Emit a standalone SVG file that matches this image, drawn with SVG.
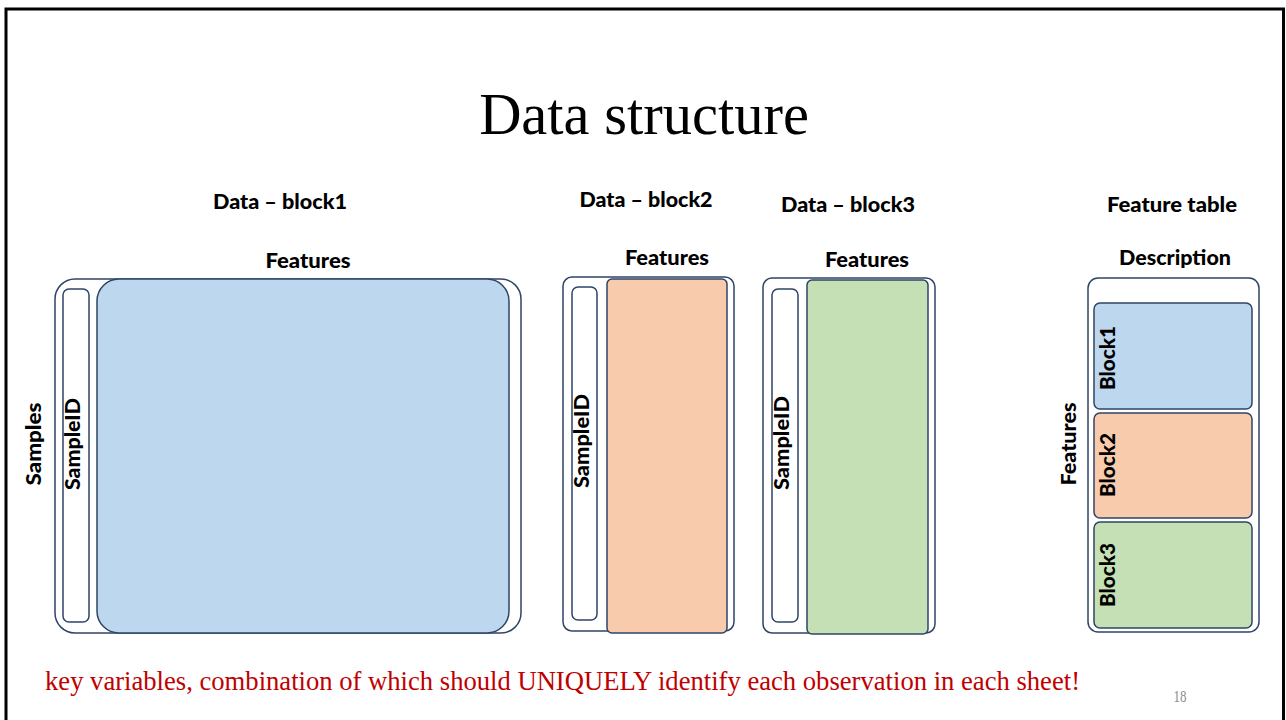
<svg xmlns="http://www.w3.org/2000/svg" width="1286" height="720" viewBox="0 0 1286 720">
  <style>
    .frame { fill: none; stroke: #000; stroke-width: 3; }
    .box { stroke: #2F4468; stroke-width: 1.5; }
    .shell { fill: #fff; }
    .blue { fill: #BDD7EE; }
    .orange { fill: #F8CBAD; }
    .green { fill: #C5E0B4; }
    .lbl { font-family: Lato, "Open Sans", "Liberation Sans", sans-serif; font-weight: 900; font-size: 20px; fill: #000; text-anchor: middle; }
    .title { font-family: "Liberation Serif", "Times New Roman", serif; font-size: 58.5px; fill: #000; text-anchor: middle; }
    .note { font-family: "Liberation Serif", "Times New Roman", serif; font-size: 27px; fill: #C00000; }
    .pg { font-family: "Liberation Serif", "Times New Roman", serif; font-size: 16px; fill: #8C8C8C; text-anchor: middle; }
  </style>

  <rect width="1286" height="720" fill="#fff"/>
  <!-- slide frame (open at the bottom) -->
  <path class="frame" d="M6 720 V9 H1283.5 V720"/>

  <text class="title" x="644" y="134">Data structure</text>

  <!-- Data block 1 -->
  <g id="block1">
    <text class="lbl" x="280" y="209" textLength="134" lengthAdjust="spacingAndGlyphs">Data – block1</text>
    <text class="lbl" x="308" y="268" textLength="85" lengthAdjust="spacingAndGlyphs">Features</text>
    <rect class="box shell" x="55" y="279" width="466" height="354" rx="20"/>
    <rect class="box shell" x="63" y="289" width="26" height="333" rx="6"/>
    <rect class="box blue" x="97" y="279" width="412" height="354" rx="22"/>
    <text class="lbl" transform="translate(41,444) rotate(-90)" textLength="83" lengthAdjust="spacingAndGlyphs">Samples</text>
    <text class="lbl" transform="translate(80,444) rotate(-90)" textLength="92" lengthAdjust="spacingAndGlyphs">SampleID</text>
  </g>

  <!-- Data block 2 -->
  <g id="block2">
    <text class="lbl" x="646" y="207" textLength="133" lengthAdjust="spacingAndGlyphs">Data – block2</text>
    <text class="lbl" x="667" y="265" textLength="84" lengthAdjust="spacingAndGlyphs">Features</text>
    <rect class="box shell" x="563" y="277" width="171" height="354" rx="9"/>
    <rect class="box shell" x="572" y="287" width="25" height="333" rx="6"/>
    <rect class="box orange" x="607" y="279" width="120" height="354" rx="5"/>
    <text class="lbl" transform="translate(589,441) rotate(-90)" textLength="94" lengthAdjust="spacingAndGlyphs">SampleID</text>
  </g>

  <!-- Data block 3 -->
  <g id="block3">
    <text class="lbl" x="848" y="212" textLength="134" lengthAdjust="spacingAndGlyphs">Data – block3</text>
    <text class="lbl" x="867" y="267" textLength="84" lengthAdjust="spacingAndGlyphs">Features</text>
    <rect class="box shell" x="763" y="278" width="172" height="355" rx="9"/>
    <rect class="box shell" x="772" y="289" width="26" height="333" rx="6"/>
    <rect class="box green" x="807" y="280" width="121" height="354" rx="5"/>
    <text class="lbl" transform="translate(789,443) rotate(-90)" textLength="94" lengthAdjust="spacingAndGlyphs">SampleID</text>
  </g>

  <!-- Feature table -->
  <g id="feature-table">
    <text class="lbl" x="1172" y="212" textLength="130" lengthAdjust="spacingAndGlyphs">Feature table</text>
    <text class="lbl" x="1175" y="265" textLength="112" lengthAdjust="spacingAndGlyphs">Description</text>
    <rect class="box shell" x="1088" y="278" width="171" height="354" rx="10"/>
    <text class="lbl" transform="translate(1076,444) rotate(-90)" textLength="83" lengthAdjust="spacingAndGlyphs">Features</text>
    <g id="ft-block1">
      <rect class="box blue" x="1094" y="303" width="158" height="106" rx="6"/>
      <text class="lbl" transform="translate(1115,358) rotate(-90)" textLength="64" lengthAdjust="spacingAndGlyphs">Block1</text>
    </g>
    <g id="ft-block2">
      <rect class="box orange" x="1094" y="413" width="158" height="105" rx="6"/>
      <text class="lbl" transform="translate(1115,465) rotate(-90)" textLength="64" lengthAdjust="spacingAndGlyphs">Block2</text>
    </g>
    <g id="ft-block3">
      <rect class="box green" x="1094" y="522" width="158" height="106" rx="6"/>
      <text class="lbl" transform="translate(1115,575) rotate(-90)" textLength="64" lengthAdjust="spacingAndGlyphs">Block3</text>
    </g>
  </g>

  <g id="connectors"></g>

  <text class="note" x="45" y="690" textLength="1035" lengthAdjust="spacingAndGlyphs">key variables, combination of which should UNIQUELY identify each observation in each sheet!</text>
  <text class="pg" x="1180" y="702" textLength="13" lengthAdjust="spacingAndGlyphs">18</text>
</svg>
